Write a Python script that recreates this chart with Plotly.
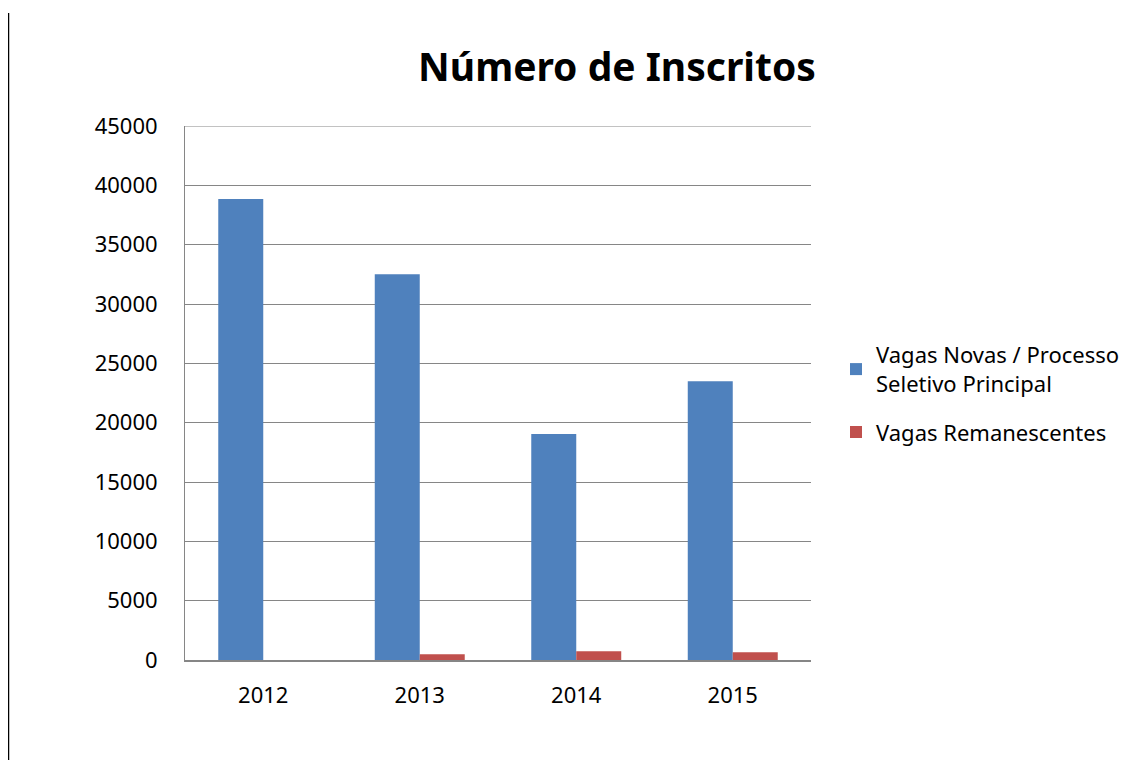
import plotly.graph_objects as go

years = ["2012", "2013", "2014", "2015"]
novas = [38850, 32500, 19050, 23500]
remanescentes = [0, 480, 735, 650]
series_names = ["Vagas Novas / Processo<br>Seletivo Principal", "Vagas Remanescentes"]
colors = ["#4F81BD", "#C0504D"]
yticks = [0, 5000, 10000, 15000, 20000, 25000, 30000, 35000, 40000, 45000]

fig = go.Figure()
fig.add_trace(go.Bar(x=years, y=novas, name=series_names[0], legendgroup="a",
                     marker=dict(color=colors[0], line=dict(width=0))))
fig.add_trace(go.Bar(x=years, y=remanescentes, name=series_names[1], legendgroup="b",
                     marker=dict(color=colors[1], line=dict(width=0))))

font = "Noto Sans, Open Sans, sans-serif"
# page offset of 8px (body margin) compensated in margins
PL, PT, PW, PH = 185, 126, 626, 534
fig.update_layout(
    width=1133, height=760,
    margin=dict(l=PL - 8, r=1133 - (PL - 8) - PW, t=PT - 8, b=760 - (PT - 8) - PH, autoexpand=False),
    paper_bgcolor="white", plot_bgcolor="white",
    barmode="group", bargap=0.425, bargroupgap=0,
    font=dict(family=font, size=22, color="black"),
    title=dict(text="<b>Número de Inscritos</b>", x=(617 - 8) / 1133, xanchor="center",
               y=1 - (67 - 8) / 760, yanchor="middle", font=dict(size=39, family=font, color="black")),
    xaxis=dict(showline=True, linecolor="#868686", linewidth=2, showgrid=False,
               ticks="", tickfont=dict(size=22), ticklabelstandoff=15),
    yaxis=dict(range=[0, 45000], tickvals=yticks, showgrid=True, gridcolor="#868686",
               gridwidth=1, showline=True, linecolor="#868686", linewidth=1,
               ticks="", tickfont=dict(size=22), zeroline=False, tickformat="d",
               ticklabelstandoff=22),
    legend=dict(x=(836 - PL) / PW, xanchor="left", y=(PT + PH - 334) / PH, yanchor="top",
                font=dict(size=22, family=font), itemwidth=30, traceorder="grouped",
                tracegroupgap=17, bgcolor="rgba(0,0,0,0)"),
    showlegend=True,
)

# top gridline at the range maximum
fig.add_shape(type="line", xref="paper", yref="y", x0=0, x1=1, y0=yticks[-1], y1=yticks[-1],
              line=dict(color="#868686", width=1), layer="below")

fig.add_shape(type="line", xref="paper", yref="paper",
              x0=(8 - PL) / PW, x1=(8 - PL) / PW, y0=(PT + PH - 13) / PH, y1=(PT + PH - 770) / PH,
              line=dict(color="black", width=2.5))

fig.write_html("out.html")
